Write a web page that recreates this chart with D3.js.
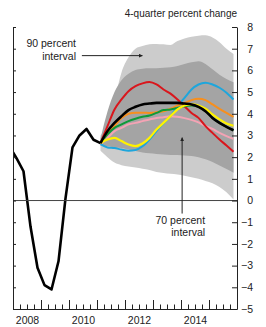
<!DOCTYPE html>
<html>
<head>
<meta charset="utf-8">
<script src="https://cdn.jsdelivr.net/npm/d3@7"></script>
<style>
  body { margin: 0; background: #fff; }
  svg { display: block; font-family: Arial, "Liberation Sans", sans-serif; }
</style>
</head>
<body>
<svg width="266" height="327"></svg>
<script>
// history, quarterly (4-quarter percent change)
var histQuarters = ["2007Q4", "2008Q1", "2008Q2", "2008Q3", "2008Q4", "2009Q1", "2009Q2",
    "2009Q3", "2009Q4", "2010Q1", "2010Q2", "2010Q3", "2010Q4", "2011Q1"];
var histValues = [2.5, 1.95, 1.35, -1.2, -3.1, -3.9, -4.1, -2.8, 0.1, 2.45, 3.0, 3.3, 2.8, 2.65];

// projection quarters 2011Q1 .. 2015Q4
var projQuarters = [];
for (var yr = 2011; yr <= 2015; yr++) for (var q = 1; q <= 4; q++) projQuarters.push(yr + "Q" + q);

var red    = [2.65, 3.43, 4.2, 4.66, 5.04, 5.27, 5.4, 5.46, 5.35, 5.12, 4.93, 4.66, 4.35, 4.04, 3.81, 3.43, 3.12, 2.81, 2.54, 2.25];
var black  = [2.65, 3.2, 3.58, 3.89, 4.17, 4.32, 4.43, 4.47, 4.5, 4.5, 4.5, 4.5, 4.47, 4.43, 4.32, 4.12, 3.81, 3.58, 3.4, 3.24];
var orange = [2.65, 3.1, 3.45, 3.8, 4.0, 4.05, 4.05, 4.04, 4.07, 4.12, 4.23, 4.38, 4.5, 4.63, 4.69, 4.63, 4.43, 4.23, 4.04, 3.86];
var green  = [2.65, 3.05, 3.35, 3.51, 3.66, 3.77, 3.86, 3.92, 4.04, 4.17, 4.2, 4.27, 4.35, 4.38, 4.32, 4.12, 3.81, 3.58, 3.4, 3.24];
var pink   = [2.6, 2.89, 3.2, 3.35, 3.51, 3.58, 3.66, 3.74, 3.81, 3.84, 3.89, 3.86, 3.8, 3.72, 3.6, 3.43, 3.3, 3.12, 2.97, 2.84];
var yellow = [2.65, 2.81, 2.89, 2.74, 2.58, 2.51, 2.63, 2.89, 3.27, 3.58, 3.89, 4.2, 4.38, 4.43, 4.38, 4.23, 3.97, 3.74, 3.55, 3.45];
var blue   = [2.6, 2.45, 2.42, 2.35, 2.3, 2.33, 2.5, 2.81, 3.2, 3.55, 3.89, 4.35, 4.73, 5.12, 5.35, 5.43, 5.35, 5.2, 4.97, 4.66];

// interval bands
var upper90 = [3.0, 3.5, 4.6, 5.9, 6.6, 7.0, 7.12, 7.2, 7.22, 7.2, 7.17, 7.35, 7.47, 7.55, 7.6, 7.62, 7.52, 7.3, 7.0, 6.75];
var lower90 = [2.3, 2.0, 1.75, 1.63, 1.57, 1.52, 1.47, 1.41, 1.32, 1.27, 1.23, 1.2, 1.14, 1.07, 1.0, 0.9, 0.8, 0.62, 0.38, 0.05];
var upper70 = [2.85, 4.1, 5.0, 5.55, 5.85, 6.02, 6.08, 6.1, 6.1, 6.12, 6.15, 6.2, 6.3, 6.37, 6.42, 6.3, 6.05, 5.8, 5.6, 5.45];
var lower70 = [2.55, 2.5, 2.45, 2.42, 2.35, 2.28, 2.22, 2.18, 2.15, 2.12, 2.1, 2.1, 2.08, 2.05, 2.0, 1.9, 1.78, 1.62, 1.45, 1.28];

var yearLabels = [2008, 2010, 2012, 2014];

var svg = d3.select("svg"),
    margin = {left: 13, right: 237, top: 27, bottom: 309};

// quarter string -> middle of quarter as decimal year
function qtime(s) {
    return +s.slice(0, 4) + (+s.slice(5) - 0.5) / 4;
}

var x = d3.scaleLinear().domain([2008, 2016]).range([margin.left, margin.right]);
var y = d3.scaleLinear().domain([-5, 8]).range([margin.bottom, margin.top]);

svg.append("clipPath").attr("id", "plot")
    .append("rect")
    .attr("x", margin.left).attr("y", margin.top)
    .attr("width", margin.right - margin.left).attr("height", margin.bottom - margin.top);

var proj = projQuarters.map(qtime);

var area = d3.area()
    .x(function (d) { return x(d.t); })
    .y0(function (d) { return y(d.lo); })
    .y1(function (d) { return y(d.hi); })
    .curve(d3.curveMonotoneX);

function band(lo, hi) {
    return proj.map(function (t, i) { return {t: t, lo: lo[i], hi: hi[i]}; });
}

var g = svg.append("g").attr("clip-path", "url(#plot)");

g.append("path").datum(band(lower90, upper90)).attr("fill", "#cccccc").attr("d", area);
g.append("path").datum(band(lower70, upper70)).attr("fill", "#a4a4a4").attr("d", area);

// zero line
svg.append("line")
    .attr("x1", margin.left).attr("x2", margin.right)
    .attr("y1", y(0)).attr("y2", y(0))
    .attr("stroke", "#444").attr("stroke-width", 1);

var smooth = d3.line()
    .x(function (d) { return x(d.t); })
    .y(function (d) { return y(d.v); })
    .curve(d3.curveMonotoneX);

var series = [
    {vals: pink, color: "#f4a3b4", w: 2},
    {vals: blue, color: "#1ea6dc", w: 2},
    {vals: red, color: "#d9161c", w: 2},
    {vals: orange, color: "#f78f1e", w: 2},
    {vals: green, color: "#0f9a38", w: 2},
    {vals: yellow, color: "#fff200", w: 2.2},
    {vals: black, color: "#000", w: 2.6}
];

series.forEach(function (s) {
    g.append("path")
        .datum(proj.map(function (t, i) { return {t: t, v: s.vals[i]}; }))
        .attr("fill", "none")
        .attr("stroke", s.color)
        .attr("stroke-width", s.w)
        .attr("stroke-linejoin", "round")
        .attr("d", smooth);
});

// history
g.append("path")
    .datum(histQuarters.map(function (s, i) { return {t: qtime(s), v: histValues[i]}; }))
    .attr("fill", "none")
    .attr("stroke", "#000")
    .attr("stroke-width", 2.6)
    .attr("stroke-linejoin", "round")
    .attr("d", d3.line().x(function (d) { return x(d.t); }).y(function (d) { return y(d.v); }));

// axes
var yTicks = d3.range(-5, 9);

var ra = svg.append("g")
    .attr("transform", "translate(" + margin.right + ",0)")
    .call(d3.axisRight(y).tickValues(yTicks).tickSizeInner(-5).tickSizeOuter(0));
ra.selectAll("text").attr("x", 16).attr("text-anchor", "end").attr("font-size", 10.5).attr("fill", "#222");

svg.append("g")
    .attr("transform", "translate(" + margin.left + ",0)")
    .call(d3.axisLeft(y).tickValues(yTicks).tickSizeInner(-3).tickSizeOuter(0).tickFormat(""));

var quarterTicks = d3.range(2008.25, 2016, 0.25).filter(function (t) { return t % 1 !== 0; });
var yearTicks = d3.range(2009, 2016);

svg.append("g")
    .attr("transform", "translate(0," + margin.bottom + ")")
    .call(d3.axisBottom(x).tickValues(quarterTicks).tickSizeInner(-4.5).tickSizeOuter(0).tickFormat(""));
svg.append("g")
    .attr("transform", "translate(0," + margin.bottom + ")")
    .call(d3.axisBottom(x).tickValues(yearTicks).tickSizeInner(-9).tickSizeOuter(0).tickFormat(""))
    .select(".domain").remove();

var xl = svg.append("g")
    .attr("transform", "translate(0," + margin.bottom + ")")
    .call(d3.axisBottom(x).tickValues(yearLabels.map(function (d) { return d + 0.5; }))
        .tickSize(0).tickPadding(8).tickFormat(function (d) { return Math.floor(d); }));
xl.select(".domain").remove();
xl.selectAll("text").attr("font-size", 10.5).attr("fill", "#222");

svg.selectAll(".domain, .tick line").attr("stroke", "#222");

// labels
svg.append("text")
    .attr("x", margin.right).attr("y", 17)
    .attr("text-anchor", "end")
    .attr("font-size", 10)
    .attr("fill", "#222")
    .text("4-quarter percent change");

svg.append("defs").append("marker")
    .attr("id", "head")
    .attr("viewBox", "0 0 10 10")
    .attr("refX", 9).attr("refY", 5)
    .attr("markerWidth", 4).attr("markerHeight", 4)
    .attr("orient", "auto")
    .append("path").attr("d", "M0,0L10,5L0,10z").attr("fill", "#222");

function note(lines, tx, ty, lh) {
    var t = svg.append("text")
        .attr("text-anchor", "end")
        .attr("font-size", 10.5)
        .attr("fill", "#222");
    lines.forEach(function (s, i) {
        t.append("tspan").attr("x", x(tx)).attr("y", y(ty) + i * lh).text(s);
    });
}

note(["90 percent", "interval"], 2010.25, 7.1, 13);
svg.append("line")
    .attr("x1", x(2010.46)).attr("x2", x(2012.62))
    .attr("y1", y(6.68)).attr("y2", y(6.68))
    .attr("stroke", "#222").attr("stroke-width", 1)
    .attr("marker-end", "url(#head)");

note(["70 percent", "interval"], 2014.86, -1.1, 12);
svg.append("line")
    .attr("x1", x(2014.04)).attr("x2", x(2014.04))
    .attr("y1", y(-0.6)).attr("y2", y(2.9))
    .attr("stroke", "#222").attr("stroke-width", 1)
    .attr("marker-end", "url(#head)");
</script>
</body>
</html>
